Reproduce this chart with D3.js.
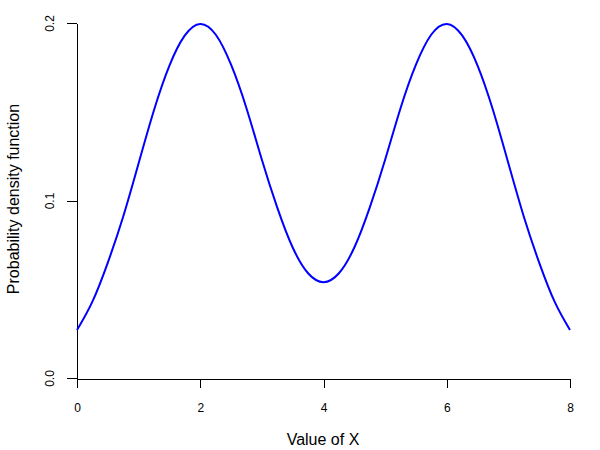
<!DOCTYPE html>
<html lang="en">
<head>
    <meta charset="UTF-8">
    <title>density</title>
    <script src="https://d3js.org/d3.v7.min.js"></script>
    <style>
        body{
            margin: 0;
            background: #ffffff;
        }
        text{
            font-family: "Liberation Sans", Arial, sans-serif;
            fill: #000000;
        }
    </style>
</head>
<body>
<svg id="main" width="600" height="450"></svg>

<script>
    // values
    let xValues = [0, 0.25, 0.5, 0.75, 1, 1.25, 1.5, 1.75, 2, 2.25, 2.5, 2.75, 3, 3.25, 3.5, 3.75,
                   4, 4.25, 4.5, 4.75, 5, 5.25, 5.5, 5.75, 6, 6.25, 6.5, 6.75, 7, 7.25, 7.5, 7.75, 8]
    let density = [0.027, 0.043, 0.065, 0.091, 0.121, 0.151, 0.176, 0.193, 0.1995, 0.1935, 0.1765, 0.152,
                   0.123, 0.096, 0.0735, 0.059, 0.054, 0.059, 0.0735, 0.096, 0.123, 0.152, 0.1765, 0.1935,
                   0.1995, 0.193, 0.176, 0.151, 0.121, 0.091, 0.065, 0.043, 0.027]
    let xTicks = [0, 2, 4, 6, 8]
    let yTicks = [0, 0.1, 0.2]

    let svg = d3.select("#main")

    let x = d3.scaleLinear().domain([0, 8]).range([77, 570])
    let y = d3.scaleLinear().domain([0, 0.2]).range([378, 23])

    // x axis
    let gx = svg.append("g")
        .attr("transform", "translate(0,378.5)")
        .call(d3.axisBottom(x).tickValues(xTicks).tickSize(9).tickSizeOuter(0).tickFormat(d3.format("d")))
    gx.selectAll("text")
        .attr("y", 25)
        .style("font-size", "12px")
    gx.selectAll("path, line").attr("stroke", "#000").attr("shape-rendering", "crispEdges")

    // y axis
    let gy = svg.append("g")
        .attr("transform", "translate(76.5,0)")
        .call(d3.axisLeft(y).tickValues(yTicks).tickSize(10).tickSizeOuter(0).tickFormat(d3.format(".1f")))
    gy.selectAll("text")
        .attr("x", null)
        .attr("dy", null)
        .attr("text-anchor", "middle")
        .attr("transform", "translate(-26,0) rotate(-90)")
        .attr("dominant-baseline", "middle")
        .style("font-size", "12px")
    gy.selectAll("path, line").attr("stroke", "#000").attr("shape-rendering", "crispEdges")

    // curve
    let line = d3.line()
        .x(function (d, i) { return x(xValues[i]) })
        .y(function (d) { return y(d) })
        .curve(d3.curveNatural)

    svg.append("path")
        .datum(density)
        .attr("d", line)
        .attr("fill", "none")
        .attr("stroke", "#0000ff")
        .attr("stroke-width", 2)

    // axis titles
    svg.append("text")
        .attr("x", 323)
        .attr("y", 445)
        .attr("text-anchor", "middle")
        .style("font-size", "16px")
        .text("Value of X")

    svg.append("text")
        .attr("transform", "translate(19,199) rotate(-90)")
        .attr("text-anchor", "middle")
        .style("font-size", "16px")
        .text("Probability density function")
</script>
</body>
</html>
